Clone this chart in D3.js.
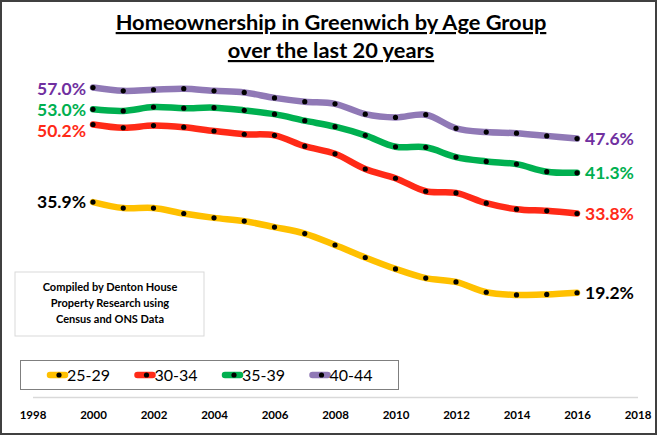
<!DOCTYPE html>
<html>
<head>
<meta charset="utf-8">
<script src="https://cdn.jsdelivr.net/npm/d3@7"></script>
<style>
  body { margin: 0; background: #fff; }
  text { font-family: Lato, "Open Sans", sans-serif; }
</style>
</head>
<body>
<script>
var years = [2000, 2001, 2002, 2003, 2004, 2005, 2006, 2007, 2008,
             2009, 2010, 2011, 2012, 2013, 2014, 2015, 2016];

var age2529 = [35.9, 34.8, 34.8, 33.8, 33.0, 32.4, 31.3, 30.1, 28.0,
               25.7, 23.6, 21.9, 21.2, 19.3, 18.8, 18.9, 19.2];
var age3034 = [50.2, 49.6, 50.0, 49.7, 49.0, 48.4, 48.2, 46.2, 44.8,
               42.0, 40.3, 37.9, 37.6, 35.7, 34.6, 34.3, 33.8];
var age3539 = [53.0, 52.7, 53.4, 53.2, 53.3, 52.8, 52.1, 50.9, 49.8,
               48.2, 46.1, 46.0, 44.2, 43.4, 42.9, 41.5, 41.3];
var age4044 = [57.0, 56.4, 56.6, 56.8, 56.4, 56.1, 55.1, 54.4, 54.0,
               52.1, 51.5, 52.0, 49.5, 48.8, 48.6, 48.1, 47.6];

var seriesNames = ["25-29", "30-34", "35-39", "40-44"];
var xTicks = [1998, 2000, 2002, 2004, 2006, 2008, 2010, 2012, 2014, 2016, 2018];
var titleLines = ["Homeownership in Greenwich by Age Group", "over the last 20 years"];
var noteLines = ["Compiled by Denton House", "Property Research using", "Census and ONS Data"];

// startShift nudges the left label so close labels don't collide
var series = [
  {name: seriesNames[0], values: age2529, line: "#ffc000", label: "#000000", startShift: 0},
  {name: seriesNames[1], values: age3034, line: "#ff2a17", label: "#ff2a17", startShift: 6},
  {name: seriesNames[2], values: age3539, line: "#00b050", label: "#00b050", startShift: 0},
  {name: seriesNames[3], values: age4044, line: "#9079b6", label: "#7030a0", startShift: 1}
];

var width = 660, height = 437;

var svg = d3.select("body").append("svg")
    .attr("width", width)
    .attr("height", height);

// chart frame
svg.append("rect")
    .attr("x", 1).attr("y", 1)
    .attr("width", 655).attr("height", 433)
    .attr("fill", "#fff")
    .attr("stroke", "#404040")
    .attr("stroke-width", 2);

var x = d3.scaleLinear().domain([1998, 2018]).range([32.5, 637.5]);
var y = d3.scaleLinear().domain([0, 70]).range([397, 17]);

// title
svg.selectAll(".title")
    .data(titleLines)
    .enter().append("text")
    .attr("class", "title")
    .attr("x", 331)
    .attr("y", function(d, i) { return 30 + i * 28; })
    .attr("text-anchor", "middle")
    .attr("font-size", "21.8px")
    .attr("font-weight", "bold")
    .attr("text-decoration", "underline")
    .attr("fill", "#000")
    .text(function(d) { return d; });

// x axis
var xAxis = svg.append("g")
    .attr("transform", "translate(0,397)")
    .call(d3.axisBottom(x).tickValues(xTicks).tickFormat(d3.format("d")).tickSize(0).tickPadding(14));
xAxis.select(".domain").attr("stroke", "#d9d9d9").attr("stroke-width", 1.5);
xAxis.selectAll("text")
    .attr("font-family", "Lato, sans-serif")
    .attr("font-size", "11.5px")
    .attr("font-weight", "bold")
    .attr("fill", "#000");

// lines
var line = d3.line()
    .x(function(d, i) { return x(years[i]); })
    .y(function(d) { return y(d); })
    .curve(d3.curveCatmullRom.alpha(0.5));

var g = svg.append("g");

series.forEach(function(s) {
  g.append("path")
      .attr("d", line(s.values))
      .attr("fill", "none")
      .attr("stroke", s.line)
      .attr("stroke-width", 6.5)
      .attr("stroke-linecap", "round");
});

series.forEach(function(s) {
  g.selectAll(null)
      .data(s.values)
      .enter().append("circle")
      .attr("cx", function(d, i) { return x(years[i]); })
      .attr("cy", function(d) { return y(d); })
      .attr("r", 2.6)
      .attr("fill", "#000");
});

// start / end labels
series.forEach(function(s) {
  var first = s.values[0], last = s.values[s.values.length - 1];
  g.append("text")
      .attr("x", x(years[0]) - 7)
      .attr("y", y(first) + s.startShift)
      .attr("dy", "0.36em")
      .attr("text-anchor", "end")
      .attr("font-size", "17.5px")
      .attr("font-weight", "bold")
      .attr("fill", s.label)
      .text(first.toFixed(1) + "%");
  g.append("text")
      .attr("x", x(years[years.length - 1]) + 8)
      .attr("y", y(last))
      .attr("dy", "0.36em")
      .attr("font-size", "17.5px")
      .attr("font-weight", "bold")
      .attr("fill", s.label)
      .text(last.toFixed(1) + "%");
});

// source note
svg.append("rect")
    .attr("x", 15).attr("y", 272)
    .attr("width", 189).attr("height", 64)
    .attr("fill", "#fff")
    .attr("stroke", "#d9d9d9");
svg.selectAll(".note")
    .data(noteLines)
    .enter().append("text")
    .attr("class", "note")
    .attr("x", 110)
    .attr("y", function(d, i) { return 291 + i * 16; })
    .attr("text-anchor", "middle")
    .attr("font-size", "11px")
    .attr("font-weight", "bold")
    .attr("fill", "#000")
    .text(function(d) { return d; });

// legend
svg.append("rect")
    .attr("x", 20.5).attr("y", 360.5)
    .attr("width", 378).attr("height", 29)
    .attr("fill", "#fff")
    .attr("stroke", "#7f7f7f");

var leg = svg.selectAll(".leg")
    .data(series)
    .enter().append("g")
    .attr("class", "leg")
    .attr("transform", function(d, i) { return "translate(" + (50 + i * 87.5) + ",375)"; });
leg.append("line")
    .attr("x1", 0).attr("x2", 15)
    .attr("stroke", function(d) { return d.line; })
    .attr("stroke-width", 6.5)
    .attr("stroke-linecap", "round");
leg.append("circle")
    .attr("cx", 9).attr("r", 2.6).attr("fill", "#000");
leg.append("text")
    .attr("x", 17)
    .attr("y", 0)
    .attr("dy", "0.36em")
    .attr("font-size", "16px")
    .attr("fill", "#000")
    .text(function(d) { return d.name; });
</script>
</body>
</html>
